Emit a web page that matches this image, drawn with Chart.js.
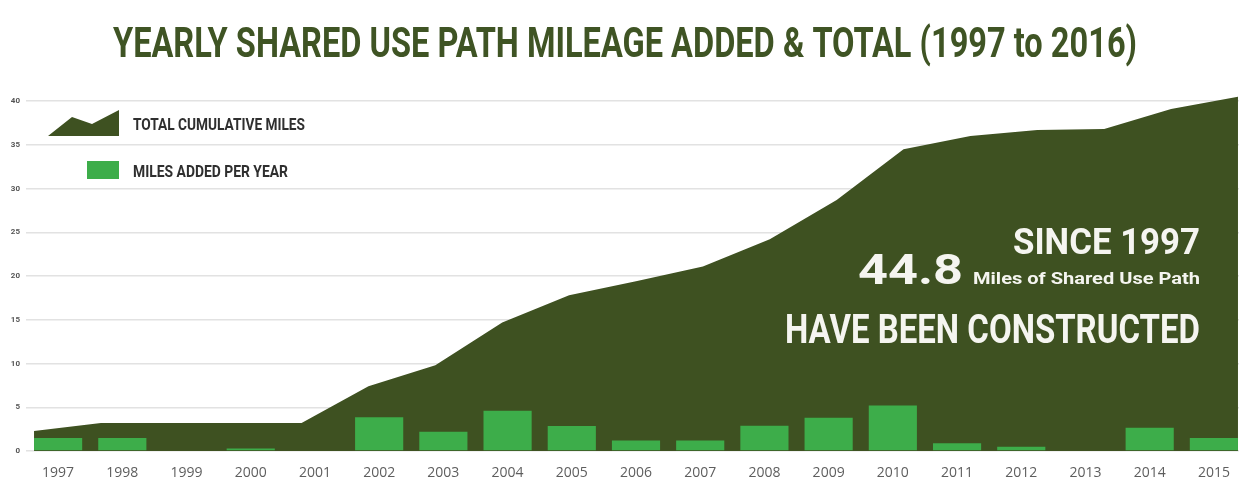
<!DOCTYPE html>
<html>
<head>
<meta charset="utf-8">
<script src="https://cdn.jsdelivr.net/npm/chart.js@4.4.1/dist/chart.umd.min.js"></script>
<style>
  html, body { margin: 0; padding: 0; background: #fff; overflow: hidden; }
  #wrap { position: relative; width: 1252px; height: 486px; }
</style>
</head>
<body>
<div id="wrap"><canvas id="grafico"></canvas></div>
<script>
// dados
const anos = ["1997", "1998", "1999", "2000", "2001", "2002", "2003", "2004", "2005", "2006",
  "2007", "2008", "2009", "2010", "2011", "2012", "2013", "2014", "2015"];
const milhasAno = [1.5, 1.5, 0, 0.3, 0, 3.85, 2.2, 4.6, 2.85, 1.2,
  1.2, 2.9, 3.8, 5.2, 0.9, 0.5, 0, 2.65, 1.5];
const milhasTotal = [2.3, 3.2, 3.2, 3.2, 3.2, 7.4, 9.8, 14.7, 17.8, 19.4,
  21.1, 24.2, 28.7, 34.5, 36.0, 36.7, 36.8, 39.1, 40.5];
const ticksY = [0, 5, 10, 15, 20, 25, 30, 35, 40];

const verdeEscuro = "#3e5121";
const verdeClaro = "#3dad4a";

// texto condensado: mede e comprime na horizontal
function textoAjustado(ctx, texto, x, y, fonte, largura, alinhar, cor) {
  ctx.save();
  ctx.font = fonte;
  ctx.fillStyle = cor;
  ctx.textBaseline = "alphabetic";
  ctx.textAlign = alinhar;
  let w = ctx.measureText(texto).width;
  ctx.translate(x, y);
  ctx.scale(largura / w, 1);
  ctx.fillText(texto, 0, 0);
  ctx.restore();
}

const textos = {
  id: "textos",
  afterDraw(chart) {
    let ctx = chart.ctx;

    // titulo
    textoAjustado(ctx, "YEARLY SHARED USE PATH MILEAGE ADDED & TOTAL (1997 to 2016)",
      625, 57, "bold 42px Roboto", 1024, "center", "#3f5424");

    // legenda
    ctx.save();
    ctx.fillStyle = verdeEscuro;
    ctx.beginPath();
    ctx.moveTo(48, 136);
    ctx.lineTo(72, 117);
    ctx.lineTo(92, 124);
    ctx.lineTo(119, 110);
    ctx.lineTo(119, 136);
    ctx.closePath();
    ctx.fill();
    ctx.fillStyle = verdeClaro;
    ctx.fillRect(87, 161, 32, 18);
    ctx.restore();
    textoAjustado(ctx, "TOTAL CUMULATIVE MILES", 133, 130, "bold 16px Roboto", 172, "left", "#2f2f2f");
    textoAjustado(ctx, "MILES ADDED PER YEAR", 133, 177, "bold 16px Roboto", 155, "left", "#2f2f2f");

    // destaque
    let branco = "#f5f5f0";
    textoAjustado(ctx, "SINCE 1997", 1200, 254, "bold 36px Roboto", 187, "right", branco);
    textoAjustado(ctx, "44.8", 858, 284, "bold 42px Roboto", 105, "left", branco);
    textoAjustado(ctx, "Miles of Shared Use Path", 1200, 284, "bold 17px Roboto", 227, "right", branco);
    textoAjustado(ctx, "HAVE BEEN CONSTRUCTED", 1200, 343, "bold 40px Roboto", 415, "right", branco);
  }
};

let ctx = document.getElementById("grafico").getContext("2d");

let chart = new Chart(ctx, {
  data: {
    labels: anos,
    datasets: [
      {
        type: "bar",
        label: "MILES ADDED PER YEAR",
        data: milhasAno,
        backgroundColor: verdeClaro,
        barPercentage: 0.75,
        categoryPercentage: 1,
        grouped: false,
        order: 1
      },
      {
        type: "line",
        label: "TOTAL CUMULATIVE MILES",
        data: milhasTotal.map((v, i) => ({ x: i, y: v })),
        xAxisID: "xl",
        backgroundColor: verdeEscuro,
        borderWidth: 0,
        pointRadius: 0,
        fill: "origin",
        tension: 0,
        clip: false,
        order: 2
      }
    ]
  },
  plugins: [textos],
  options: {
    responsive: true,
    maintainAspectRatio: false,
    animation: false,
    layout: { padding: { top: 83.5, right: 6, left: 0, bottom: 0 } },
    plugins: {
      legend: { display: false },
      tooltip: { enabled: false }
    },
    scales: {
      x: {
        type: "category",
        offset: true,
        grid: { display: false },
        border: { display: false },
        ticks: {
          color: "#5e5e5e",
          font: { family: "Open Sans", size: 14 },
          padding: 6,
          maxRotation: 0,
          autoSkip: false
        },
        afterFit(scale) { scale.height = 35; }
      },
      xl: {
        type: "linear",
        display: false,
        min: -0.12,
        max: 18.12
      },
      y: {
        min: 0,
        max: 42,
        grid: { color: "#e2e2e2", lineWidth: 1.5, drawTicks: false },
        border: { display: false },
        afterBuildTicks(scale) {
          scale.ticks = ticksY.map(v => ({ value: v }));
        },
        ticks: {
          color: "#555",
          font: { family: "Roboto", size: 8, weight: "bold" },
          padding: 6
        },
        afterFit(scale) { scale.width = 26; }
      }
    }
  }
});
</script>
</body>
</html>
